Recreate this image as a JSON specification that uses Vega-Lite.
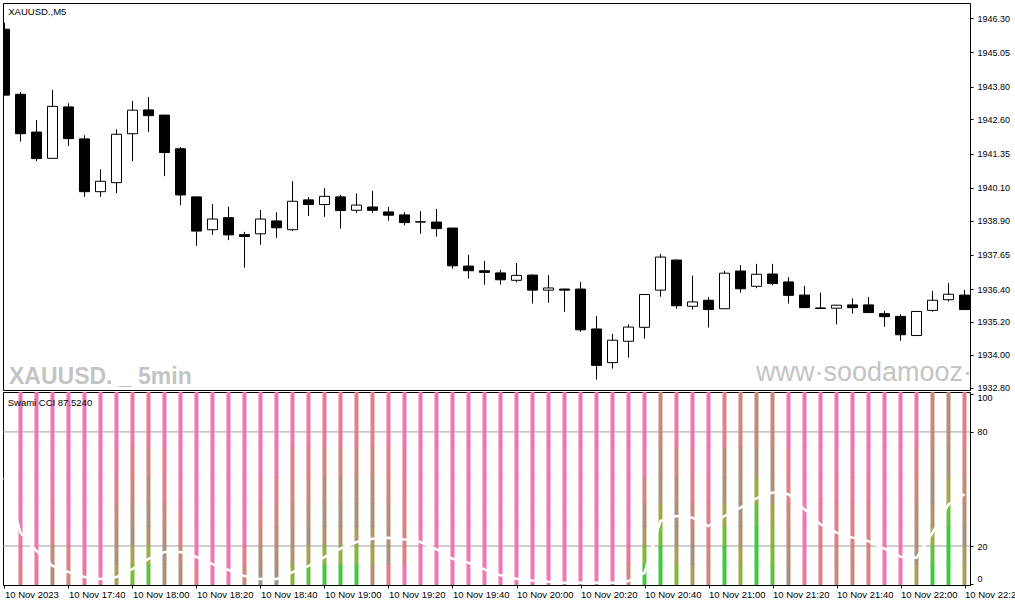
{
  "$schema": "https://vega.github.io/schema/vega-lite/v6.json",
  "background": "white",
  "padding": {"left": 2, "top": 2, "right": 0, "bottom": 0},
  "spacing": 2,
  "bounds": "flush",
  "resolve": {"scale": {"y": "independent", "color": "independent"}},
  "config": {
    "font": "Liberation Sans",
    "view": {"stroke": "black", "strokeWidth": 1},
    "axis": {"domain": false, "grid": false, "tickColor": "black", "tickSize": 3, "labelColor": "black", "labelFont": "Liberation Sans", "labelFontSize": 9, "labelOverlap": false}
  },
  "datasets": {
    "candles": [
      {"t": "2023-11-10T17:20:00Z", "o": 1945.90, "h": 1946.14, "l": 1943.48, "c": 1943.49},
      {"t": "2023-11-10T17:25:00Z", "o": 1943.52, "h": 1943.61, "l": 1941.79, "c": 1942.08},
      {"t": "2023-11-10T17:30:00Z", "o": 1942.14, "h": 1942.58, "l": 1941.08, "c": 1941.17},
      {"t": "2023-11-10T17:35:00Z", "o": 1941.18, "h": 1943.68, "l": 1941.17, "c": 1943.08},
      {"t": "2023-11-10T17:40:00Z", "o": 1943.06, "h": 1943.19, "l": 1941.63, "c": 1941.90},
      {"t": "2023-11-10T17:45:00Z", "o": 1941.89, "h": 1942.02, "l": 1939.77, "c": 1939.96},
      {"t": "2023-11-10T17:50:00Z", "o": 1939.96, "h": 1940.78, "l": 1939.77, "c": 1940.34},
      {"t": "2023-11-10T17:55:00Z", "o": 1940.29, "h": 1942.24, "l": 1939.91, "c": 1942.06},
      {"t": "2023-11-10T18:00:00Z", "o": 1942.08, "h": 1943.28, "l": 1941.08, "c": 1942.94},
      {"t": "2023-11-10T18:05:00Z", "o": 1942.95, "h": 1943.42, "l": 1942.14, "c": 1942.74},
      {"t": "2023-11-10T18:10:00Z", "o": 1942.76, "h": 1942.77, "l": 1940.53, "c": 1941.39},
      {"t": "2023-11-10T18:15:00Z", "o": 1941.53, "h": 1941.59, "l": 1939.47, "c": 1939.84},
      {"t": "2023-11-10T18:20:00Z", "o": 1939.77, "h": 1939.77, "l": 1937.98, "c": 1938.52},
      {"t": "2023-11-10T18:25:00Z", "o": 1938.57, "h": 1939.51, "l": 1938.38, "c": 1938.96},
      {"t": "2023-11-10T18:30:00Z", "o": 1939.01, "h": 1939.41, "l": 1938.19, "c": 1938.38},
      {"t": "2023-11-10T18:35:00Z", "o": 1938.39, "h": 1938.49, "l": 1937.18, "c": 1938.32},
      {"t": "2023-11-10T18:40:00Z", "o": 1938.42, "h": 1939.29, "l": 1938.02, "c": 1938.96},
      {"t": "2023-11-10T18:45:00Z", "o": 1938.89, "h": 1939.21, "l": 1938.27, "c": 1938.64},
      {"t": "2023-11-10T18:50:00Z", "o": 1938.57, "h": 1940.35, "l": 1938.52, "c": 1939.61},
      {"t": "2023-11-10T18:55:00Z", "o": 1939.66, "h": 1939.76, "l": 1939.07, "c": 1939.49},
      {"t": "2023-11-10T19:00:00Z", "o": 1939.49, "h": 1940.09, "l": 1939.04, "c": 1939.79},
      {"t": "2023-11-10T19:05:00Z", "o": 1939.77, "h": 1939.84, "l": 1938.61, "c": 1939.27},
      {"t": "2023-11-10T19:10:00Z", "o": 1939.28, "h": 1939.90, "l": 1939.19, "c": 1939.47},
      {"t": "2023-11-10T19:15:00Z", "o": 1939.40, "h": 1939.99, "l": 1939.19, "c": 1939.28},
      {"t": "2023-11-10T19:20:00Z", "o": 1939.22, "h": 1939.40, "l": 1938.90, "c": 1939.10},
      {"t": "2023-11-10T19:25:00Z", "o": 1939.11, "h": 1939.21, "l": 1938.73, "c": 1938.83},
      {"t": "2023-11-10T19:30:00Z", "o": 1938.86, "h": 1939.25, "l": 1938.42, "c": 1938.85},
      {"t": "2023-11-10T19:35:00Z", "o": 1938.85, "h": 1939.33, "l": 1938.32, "c": 1938.61},
      {"t": "2023-11-10T19:40:00Z", "o": 1938.63, "h": 1938.64, "l": 1937.15, "c": 1937.25},
      {"t": "2023-11-10T19:45:00Z", "o": 1937.24, "h": 1937.65, "l": 1936.78, "c": 1937.07},
      {"t": "2023-11-10T19:50:00Z", "o": 1937.07, "h": 1937.43, "l": 1936.56, "c": 1937.01},
      {"t": "2023-11-10T19:55:00Z", "o": 1936.99, "h": 1937.10, "l": 1936.56, "c": 1936.74},
      {"t": "2023-11-10T20:00:00Z", "o": 1936.72, "h": 1937.35, "l": 1936.65, "c": 1936.90},
      {"t": "2023-11-10T20:05:00Z", "o": 1936.91, "h": 1936.94, "l": 1935.87, "c": 1936.36},
      {"t": "2023-11-10T20:10:00Z", "o": 1936.36, "h": 1936.91, "l": 1935.90, "c": 1936.44},
      {"t": "2023-11-10T20:15:00Z", "o": 1936.40, "h": 1936.41, "l": 1935.57, "c": 1936.36},
      {"t": "2023-11-10T20:20:00Z", "o": 1936.40, "h": 1936.66, "l": 1934.84, "c": 1934.91},
      {"t": "2023-11-10T20:25:00Z", "o": 1934.94, "h": 1935.42, "l": 1933.09, "c": 1933.61},
      {"t": "2023-11-10T20:30:00Z", "o": 1933.71, "h": 1934.76, "l": 1933.49, "c": 1934.53},
      {"t": "2023-11-10T20:35:00Z", "o": 1934.49, "h": 1935.11, "l": 1933.89, "c": 1935.01},
      {"t": "2023-11-10T20:40:00Z", "o": 1935.00, "h": 1936.21, "l": 1934.59, "c": 1936.20},
      {"t": "2023-11-10T20:45:00Z", "o": 1936.36, "h": 1937.68, "l": 1936.12, "c": 1937.57},
      {"t": "2023-11-10T20:50:00Z", "o": 1937.46, "h": 1937.49, "l": 1935.68, "c": 1935.79},
      {"t": "2023-11-10T20:55:00Z", "o": 1935.77, "h": 1936.89, "l": 1935.65, "c": 1935.93},
      {"t": "2023-11-10T21:00:00Z", "o": 1935.99, "h": 1936.11, "l": 1934.99, "c": 1935.65},
      {"t": "2023-11-10T21:05:00Z", "o": 1935.68, "h": 1937.06, "l": 1935.67, "c": 1936.98},
      {"t": "2023-11-10T21:10:00Z", "o": 1937.06, "h": 1937.28, "l": 1936.27, "c": 1936.41},
      {"t": "2023-11-10T21:15:00Z", "o": 1936.50, "h": 1937.32, "l": 1936.43, "c": 1936.94},
      {"t": "2023-11-10T21:20:00Z", "o": 1936.95, "h": 1937.32, "l": 1936.54, "c": 1936.60},
      {"t": "2023-11-10T21:25:00Z", "o": 1936.66, "h": 1936.84, "l": 1935.87, "c": 1936.17},
      {"t": "2023-11-10T21:30:00Z", "o": 1936.18, "h": 1936.51, "l": 1935.71, "c": 1935.72},
      {"t": "2023-11-10T21:35:00Z", "o": 1935.71, "h": 1936.27, "l": 1935.69, "c": 1935.69},
      {"t": "2023-11-10T21:40:00Z", "o": 1935.70, "h": 1935.82, "l": 1935.11, "c": 1935.81},
      {"t": "2023-11-10T21:45:00Z", "o": 1935.82, "h": 1936.06, "l": 1935.50, "c": 1935.72},
      {"t": "2023-11-10T21:50:00Z", "o": 1935.82, "h": 1936.11, "l": 1935.53, "c": 1935.54},
      {"t": "2023-11-10T21:55:00Z", "o": 1935.50, "h": 1935.60, "l": 1935.02, "c": 1935.39},
      {"t": "2023-11-10T22:00:00Z", "o": 1935.40, "h": 1935.48, "l": 1934.51, "c": 1934.73},
      {"t": "2023-11-10T22:05:00Z", "o": 1934.70, "h": 1935.59, "l": 1934.69, "c": 1935.58},
      {"t": "2023-11-10T22:10:00Z", "o": 1935.62, "h": 1936.33, "l": 1935.57, "c": 1935.99},
      {"t": "2023-11-10T22:15:00Z", "o": 1936.01, "h": 1936.62, "l": 1935.95, "c": 1936.21},
      {"t": "2023-11-10T22:20:00Z", "o": 1936.18, "h": 1936.37, "l": 1935.64, "c": 1935.65}
    ],
    "swami": [
      {"t": "2023-11-10T17:20:00Z", "s": 56},
      {"t": "2023-11-10T17:25:00Z", "s": 27, "c0": 0.8, "c1": 0.9, "c2": 0.95, "c3": 1, "c4": 1, "c5": 1, "c6": 1},
      {"t": "2023-11-10T17:30:00Z", "s": 17.4, "c0": 0.9, "c1": 0.95, "c2": 1, "c3": 1, "c4": 1, "c5": 1, "c6": 1},
      {"t": "2023-11-10T17:35:00Z", "s": 9.5, "c0": 0.55, "c1": 0.65, "c2": 0.8, "c3": 0.9, "c4": 0.95, "c5": 1, "c6": 1},
      {"t": "2023-11-10T17:40:00Z", "s": 6.3, "c0": 0.75, "c1": 0.85, "c2": 0.95, "c3": 1, "c4": 1, "c5": 1, "c6": 1},
      {"t": "2023-11-10T17:45:00Z", "s": 3.7, "c0": 0.9, "c1": 1, "c2": 1, "c3": 1, "c4": 1, "c5": 1, "c6": 1},
      {"t": "2023-11-10T17:50:00Z", "s": 2.6, "c0": 1, "c1": 1, "c2": 1, "c3": 1, "c4": 1, "c5": 1, "c6": 1},
      {"t": "2023-11-10T17:55:00Z", "s": 3.7, "c0": 0.3, "c1": 0.45, "c2": 0.6, "c3": 0.7, "c4": 0.8, "c5": 0.9, "c6": 1},
      {"t": "2023-11-10T18:00:00Z", "s": 7.9, "c0": 0.1, "c1": 0.3, "c2": 0.5, "c3": 0.6, "c4": 0.7, "c5": 0.8, "c6": 0.95},
      {"t": "2023-11-10T18:05:00Z", "s": 13.2, "c0": 0.05, "c1": 0.2, "c2": 0.42, "c3": 0.52, "c4": 0.62, "c5": 0.75, "c6": 0.9},
      {"t": "2023-11-10T18:10:00Z", "s": 16.8, "c0": 0.45, "c1": 0.52, "c2": 0.6, "c3": 0.7, "c4": 0.8, "c5": 0.9, "c6": 1},
      {"t": "2023-11-10T18:15:00Z", "s": 16.8, "c0": 0.55, "c1": 0.65, "c2": 0.8, "c3": 0.9, "c4": 0.95, "c5": 1, "c6": 1},
      {"t": "2023-11-10T18:20:00Z", "s": 14.2, "c0": 0.9, "c1": 1, "c2": 1, "c3": 1, "c4": 1, "c5": 1, "c6": 1},
      {"t": "2023-11-10T18:25:00Z", "s": 10.5, "c0": 1, "c1": 1, "c2": 1, "c3": 1, "c4": 1, "c5": 1, "c6": 1},
      {"t": "2023-11-10T18:30:00Z", "s": 7.4, "c0": 1, "c1": 1, "c2": 1, "c3": 1, "c4": 1, "c5": 1, "c6": 1},
      {"t": "2023-11-10T18:35:00Z", "s": 4.2, "c0": 0.7, "c1": 0.85, "c2": 1, "c3": 1, "c4": 1, "c5": 1, "c6": 1},
      {"t": "2023-11-10T18:40:00Z", "s": 2.6, "c0": 0.5, "c1": 0.58, "c2": 0.7, "c3": 0.8, "c4": 0.9, "c5": 1, "c6": 1},
      {"t": "2023-11-10T18:45:00Z", "s": 2.6, "c0": 0.5, "c1": 0.58, "c2": 0.65, "c3": 0.75, "c4": 0.85, "c5": 0.95, "c6": 1},
      {"t": "2023-11-10T18:50:00Z", "s": 6.3, "c0": 0.15, "c1": 0.4, "c2": 0.55, "c3": 0.65, "c4": 0.75, "c5": 0.85, "c6": 0.97},
      {"t": "2023-11-10T18:55:00Z", "s": 9.5, "c0": 0.05, "c1": 0.3, "c2": 0.5, "c3": 0.6, "c4": 0.7, "c5": 0.8, "c6": 0.95},
      {"t": "2023-11-10T19:00:00Z", "s": 14.2, "c0": 0, "c1": 0.15, "c2": 0.42, "c3": 0.52, "c4": 0.62, "c5": 0.75, "c6": 0.9},
      {"t": "2023-11-10T19:05:00Z", "s": 18.6, "c0": 0, "c1": 0.18, "c2": 0.42, "c3": 0.52, "c4": 0.62, "c5": 0.75, "c6": 0.9},
      {"t": "2023-11-10T19:10:00Z", "s": 22.1, "c0": 0, "c1": 0.12, "c2": 0.35, "c3": 0.48, "c4": 0.58, "c5": 0.7, "c6": 0.85},
      {"t": "2023-11-10T19:15:00Z", "s": 23.8, "c0": 0.6, "c1": 0.28, "c2": 0.38, "c3": 0.48, "c4": 0.58, "c5": 0.7, "c6": 0.85},
      {"t": "2023-11-10T19:20:00Z", "s": 24.4, "c0": 0.85, "c1": 0.52, "c2": 0.55, "c3": 0.6, "c4": 0.7, "c5": 0.8, "c6": 0.95},
      {"t": "2023-11-10T19:25:00Z", "s": 23.5, "c0": 1, "c1": 0.78, "c2": 0.75, "c3": 0.8, "c4": 0.85, "c5": 0.9, "c6": 1},
      {"t": "2023-11-10T19:30:00Z", "s": 22.1, "c0": 1, "c1": 1, "c2": 1, "c3": 1, "c4": 1, "c5": 1, "c6": 1},
      {"t": "2023-11-10T19:35:00Z", "s": 18.3, "c0": 1, "c1": 1, "c2": 1, "c3": 1, "c4": 1, "c5": 1, "c6": 1},
      {"t": "2023-11-10T19:40:00Z", "s": 13.3, "c0": 1, "c1": 1, "c2": 1, "c3": 1, "c4": 1, "c5": 1, "c6": 1},
      {"t": "2023-11-10T19:45:00Z", "s": 11.2, "c0": 1, "c1": 1, "c2": 1, "c3": 1, "c4": 1, "c5": 1, "c6": 1},
      {"t": "2023-11-10T19:50:00Z", "s": 7.7, "c0": 1, "c1": 1, "c2": 1, "c3": 1, "c4": 1, "c5": 1, "c6": 1},
      {"t": "2023-11-10T19:55:00Z", "s": 4.6, "c0": 1, "c1": 1, "c2": 1, "c3": 1, "c4": 1, "c5": 1, "c6": 1},
      {"t": "2023-11-10T20:00:00Z", "s": 2.8, "c0": 1, "c1": 1, "c2": 1, "c3": 1, "c4": 1, "c5": 1, "c6": 1},
      {"t": "2023-11-10T20:05:00Z", "s": 1.9, "c0": 1, "c1": 1, "c2": 1, "c3": 1, "c4": 1, "c5": 1, "c6": 1},
      {"t": "2023-11-10T20:10:00Z", "s": 1.2, "c0": 1, "c1": 1, "c2": 1, "c3": 1, "c4": 1, "c5": 1, "c6": 1},
      {"t": "2023-11-10T20:15:00Z", "s": 0.7, "c0": 1, "c1": 1, "c2": 1, "c3": 1, "c4": 1, "c5": 1, "c6": 1},
      {"t": "2023-11-10T20:20:00Z", "s": 0.7, "c0": 1, "c1": 1, "c2": 1, "c3": 1, "c4": 1, "c5": 1, "c6": 1},
      {"t": "2023-11-10T20:25:00Z", "s": 0.7, "c0": 1, "c1": 1, "c2": 1, "c3": 1, "c4": 1, "c5": 1, "c6": 1},
      {"t": "2023-11-10T20:30:00Z", "s": 0.7, "c0": 1, "c1": 1, "c2": 1, "c3": 1, "c4": 1, "c5": 1, "c6": 1},
      {"t": "2023-11-10T20:35:00Z", "s": 1.6, "c0": 0.75, "c1": 0.9, "c2": 1, "c3": 1, "c4": 1, "c5": 1, "c6": 1},
      {"t": "2023-11-10T20:40:00Z", "s": 5.9, "c0": 0, "c1": 0.12, "c2": 0.38, "c3": 0.55, "c4": 0.75, "c5": 0.95, "c6": 1},
      {"t": "2023-11-10T20:45:00Z", "s": 33.2, "c0": 0, "c1": 0, "c2": 0.08, "c3": 0.25, "c4": 0.45, "c5": 0.55, "c6": 0.7},
      {"t": "2023-11-10T20:50:00Z", "s": 35.8, "c0": 0.12, "c1": 0.35, "c2": 0.48, "c3": 0.53, "c4": 0.6, "c5": 0.75, "c6": 0.95},
      {"t": "2023-11-10T20:55:00Z", "s": 34.9, "c0": 0.35, "c1": 0.5, "c2": 0.6, "c3": 0.7, "c4": 0.8, "c5": 0.9, "c6": 1},
      {"t": "2023-11-10T21:00:00Z", "s": 30.5, "c0": 0.75, "c1": 0.75, "c2": 0.8, "c3": 0.85, "c4": 0.9, "c5": 1, "c6": 1},
      {"t": "2023-11-10T21:05:00Z", "s": 35.8, "c0": 0, "c1": 0, "c2": 0.08, "c3": 0.25, "c4": 0.45, "c5": 0.6, "c6": 0.85},
      {"t": "2023-11-10T21:10:00Z", "s": 40.2, "c0": 0.15, "c1": 0.28, "c2": 0.4, "c3": 0.47, "c4": 0.53, "c5": 0.6, "c6": 0.75},
      {"t": "2023-11-10T21:15:00Z", "s": 45.1, "c0": 0, "c1": 0, "c2": 0, "c3": 0.05, "c4": 0.2, "c5": 0.45, "c6": 0.65},
      {"t": "2023-11-10T21:20:00Z", "s": 48.1, "c0": 0.05, "c1": 0.1, "c2": 0.15, "c3": 0.25, "c4": 0.45, "c5": 0.55, "c6": 0.7},
      {"t": "2023-11-10T21:25:00Z", "s": 47.2, "c0": 0.5, "c1": 0.58, "c2": 0.65, "c3": 0.7, "c4": 0.8, "c5": 0.9, "c6": 1},
      {"t": "2023-11-10T21:30:00Z", "s": 39.3, "c0": 0.9, "c1": 1, "c2": 1, "c3": 1, "c4": 1, "c5": 1, "c6": 1},
      {"t": "2023-11-10T21:35:00Z", "s": 31.4, "c0": 0.8, "c1": 0.8, "c2": 0.85, "c3": 0.9, "c4": 0.95, "c5": 1, "c6": 1},
      {"t": "2023-11-10T21:40:00Z", "s": 27, "c0": 0.7, "c1": 0.72, "c2": 0.8, "c3": 0.85, "c4": 0.9, "c5": 0.95, "c6": 1},
      {"t": "2023-11-10T21:45:00Z", "s": 24.4, "c0": 0.7, "c1": 0.72, "c2": 0.8, "c3": 0.85, "c4": 0.9, "c5": 0.95, "c6": 1},
      {"t": "2023-11-10T21:50:00Z", "s": 22.6, "c0": 0.8, "c1": 0.75, "c2": 0.8, "c3": 0.85, "c4": 0.9, "c5": 1, "c6": 1},
      {"t": "2023-11-10T21:55:00Z", "s": 18.6, "c0": 1, "c1": 1, "c2": 1, "c3": 1, "c4": 1, "c5": 1, "c6": 1},
      {"t": "2023-11-10T22:00:00Z", "s": 14.4, "c0": 1, "c1": 1, "c2": 1, "c3": 1, "c4": 1, "c5": 1, "c6": 1},
      {"t": "2023-11-10T22:05:00Z", "s": 13.8, "c0": 0.3, "c1": 0.45, "c2": 0.55, "c3": 0.6, "c4": 0.7, "c5": 0.8, "c6": 0.95},
      {"t": "2023-11-10T22:10:00Z", "s": 27, "c0": 0, "c1": 0.05, "c2": 0.2, "c3": 0.4, "c4": 0.5, "c5": 0.6, "c6": 0.7},
      {"t": "2023-11-10T22:15:00Z", "s": 41.9, "c0": 0, "c1": 0, "c2": 0, "c3": 0.05, "c4": 0.25, "c5": 0.45, "c6": 0.6},
      {"t": "2023-11-10T22:20:00Z", "s": 47.2, "c0": 0.3, "c1": 0.38, "c2": 0.5, "c3": 0.55, "c4": 0.65, "c5": 0.75, "c6": 0.82}
    ]
  },
  "vconcat": [
    {
      "width": 967,
      "height": 387,
      "layer": [
        {
          "data": {"values": [{"k": 1}]},
          "mark": {"type": "text", "align": "left", "baseline": "alphabetic", "fontSize": 23, "fontWeight": "bold", "color": "#c4c4c4"},
          "encoding": {
            "x": {"datum": {"year": 2023, "month": 11, "date": 10, "hours": 17, "minutes": 21, "seconds": 24, "utc": true}, "type": "temporal",
                  "scale": {"type": "utc", "padding": 0, "nice": false, "domain": [{"year": 2023, "month": 11, "date": 10, "hours": 17, "minutes": 19, "seconds": 32, "utc": true}, {"year": 2023, "month": 11, "date": 10, "hours": 22, "minutes": 21, "seconds": 43, "utc": true}]},
                  "axis": null},
            "y": {"datum": 1932.94, "type": "quantitative",
                  "scale": {"domain": [1932.709, 1946.859], "nice": false, "zero": false, "padding": 0},
                  "axis": {"orient": "right", "title": null, "values": [1946.30, 1945.05, 1943.80, 1942.60, 1941.35, 1940.10, 1938.90, 1937.65, 1936.40, 1935.20, 1934.00, 1932.80], "tickCount": 30, "format": ".2f", "labelPadding": 4, "labelOverlap": false}},
            "text": {"value": "XAUUSD. _ 5min"}
          }
        },
        {
          "data": {"values": [{"k": 1}]},
          "mark": {"type": "text", "align": "left", "baseline": "alphabetic", "fontSize": 27, "color": "#c4c4c4", "clip": true},
          "encoding": {
            "x": {"datum": {"year": 2023, "month": 11, "date": 10, "hours": 21, "minutes": 14, "seconds": 51, "utc": true}, "type": "temporal"},
            "y": {"datum": 1933.02, "type": "quantitative"},
            "text": {"value": "www·soodamooz·com"}
          }
        },
        {
          "data": {"values": [{"k": 1}]},
          "mark": {"type": "text", "align": "left", "baseline": "alphabetic", "fontSize": 9.5, "color": "black"},
          "encoding": {
            "x": {"datum": {"year": 2023, "month": 11, "date": 10, "hours": 17, "minutes": 21, "seconds": 11, "utc": true}, "type": "temporal"},
            "y": {"datum": 1946.41, "type": "quantitative"},
            "text": {"value": "XAUUSD.,M5"}
          }
        },
        {
          "data": {"name": "candles"},
          "mark": {"type": "rule", "color": "black", "strokeWidth": 1, "clip": true},
          "encoding": {
            "x": {"field": "t", "type": "temporal"},
            "y": {"field": "l", "type": "quantitative"},
            "y2": {"field": "h"}
          }
        },
        {
          "data": {"name": "candles"},
          "mark": {"type": "bar", "size": 10, "stroke": "black", "strokeWidth": 1, "clip": true},
          "encoding": {
            "x": {"field": "t", "type": "temporal"},
            "y": {"field": "o", "type": "quantitative"},
            "y2": {"field": "c"},
            "fill": {"condition": {"test": "datum.c < datum.o", "value": "black"}, "value": "white"}
          }
        }
      ]
    },
    {
      "width": 967,
      "height": 193,
      "layer": [
        {
          "data": {"values": [{"v": 20}, {"v": 80}]},
          "mark": {"type": "rule", "color": "#a0a0a0", "strokeWidth": 1},
          "encoding": {
            "y": {"field": "v", "type": "quantitative",
                  "scale": {"domain": [-0.5, 101], "nice": false, "zero": false, "padding": 0},
                  "axis": {"orient": "right", "title": null, "values": [0, 20, 80, 100], "tickCount": 10, "format": "d", "labelPadding": 4, "labelOverlap": false,
                           "labelOffset": {"condition": {"test": "datum.value == 0", "value": -6}, "value": 0},
                           "labelBaseline": {"condition": {"test": "datum.value == 100", "value": "top"}, "value": "middle"}}}
          }
        },
        {
          "data": {"name": "swami"},
          "transform": [
            {"filter": "isValid(datum.c0)"},
            {"fold": ["c0", "c1", "c2", "c3", "c4", "c5", "c6"]},
            {"lookup": "key", "from": {"data": {"values": [
              {"key": "c0", "a": -1, "b": 10.5},
              {"key": "c1", "a": 10, "b": 20.5},
              {"key": "c2", "a": 20, "b": 30.5},
              {"key": "c3", "a": 30, "b": 42.5},
              {"key": "c4", "a": 42, "b": 56.5},
              {"key": "c5", "a": 56, "b": 72.5},
              {"key": "c6", "a": 72, "b": 102}
            ]}, "key": "key", "fields": ["a", "b"]}}
          ],
          "mark": {"type": "bar", "size": 4, "clip": true},
          "encoding": {
            "x": {"field": "t", "type": "temporal",
                  "scale": {"type": "utc", "padding": 0, "nice": false, "domain": [{"year": 2023, "month": 11, "date": 10, "hours": 17, "minutes": 19, "seconds": 32, "utc": true}, {"year": 2023, "month": 11, "date": 10, "hours": 22, "minutes": 21, "seconds": 43, "utc": true}]},
                  "axis": {"title": null, "orient": "bottom", "tickCount": 40, "values": [
                    {"year": 2023, "month": 11, "date": 10, "hours": 17, "minutes": 20, "utc": true},
                    {"year": 2023, "month": 11, "date": 10, "hours": 17, "minutes": 40, "utc": true},
                    {"year": 2023, "month": 11, "date": 10, "hours": 18, "minutes": 0, "utc": true},
                    {"year": 2023, "month": 11, "date": 10, "hours": 18, "minutes": 20, "utc": true},
                    {"year": 2023, "month": 11, "date": 10, "hours": 18, "minutes": 40, "utc": true},
                    {"year": 2023, "month": 11, "date": 10, "hours": 19, "minutes": 0, "utc": true},
                    {"year": 2023, "month": 11, "date": 10, "hours": 19, "minutes": 20, "utc": true},
                    {"year": 2023, "month": 11, "date": 10, "hours": 19, "minutes": 40, "utc": true},
                    {"year": 2023, "month": 11, "date": 10, "hours": 20, "minutes": 0, "utc": true},
                    {"year": 2023, "month": 11, "date": 10, "hours": 20, "minutes": 20, "utc": true},
                    {"year": 2023, "month": 11, "date": 10, "hours": 20, "minutes": 40, "utc": true},
                    {"year": 2023, "month": 11, "date": 10, "hours": 21, "minutes": 0, "utc": true},
                    {"year": 2023, "month": 11, "date": 10, "hours": 21, "minutes": 20, "utc": true},
                    {"year": 2023, "month": 11, "date": 10, "hours": 21, "minutes": 40, "utc": true},
                    {"year": 2023, "month": 11, "date": 10, "hours": 22, "minutes": 0, "utc": true},
                    {"year": 2023, "month": 11, "date": 10, "hours": 22, "minutes": 20, "utc": true}
                  ],
                  "labelAlign": "left", "labelFlush": false, "labelFontSize": 9.5, "labelPadding": 1,
                  "labelExpr": "utchours(datum.value) == 17 && utcminutes(datum.value) == 20 ? '10 Nov 2023' : utcFormat(datum.value, '%d %b %H:%M')"}},
            "y": {"field": "a", "type": "quantitative"},
            "y2": {"field": "b"},
            "color": {"field": "value", "type": "quantitative", "legend": null,
                      "scale": {"domain": [0, 0.5, 1], "range": ["#40c840", "#a39280", "#f075b4"]}}
          }
        },
        {
          "data": {"name": "swami"},
          "mark": {"type": "line", "color": "white", "strokeWidth": 2.5, "clip": true},
          "encoding": {
            "x": {"field": "t", "type": "temporal"},
            "y": {"field": "s", "type": "quantitative"}
          }
        },
        {
          "data": {"values": [{"k": 1}]},
          "mark": {"type": "text", "align": "left", "baseline": "alphabetic", "fontSize": 9.5, "color": "black"},
          "encoding": {
            "x": {"datum": {"year": 2023, "month": 11, "date": 10, "hours": 17, "minutes": 21, "seconds": 0, "utc": true}, "type": "temporal"},
            "y": {"datum": 93.8, "type": "quantitative"},
            "text": {"value": "Swami CCI 87.5240"}
          }
        }
      ]
    }
  ]
}
